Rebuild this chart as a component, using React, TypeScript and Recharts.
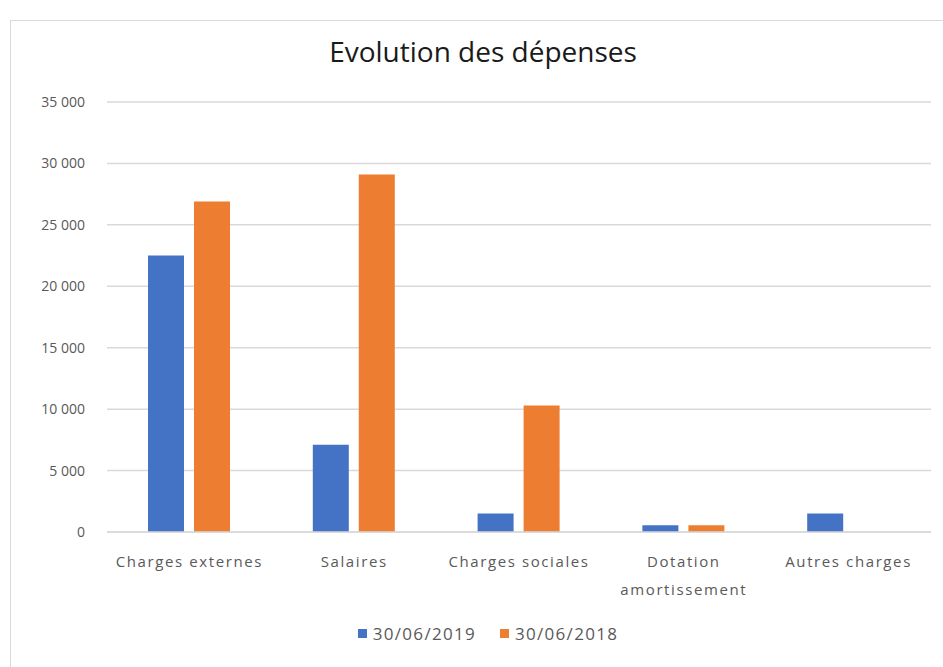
import { BarChart, Bar, XAxis, YAxis, CartesianGrid, Legend } from "recharts";

const categories = [
  "Charges externes",
  "Salaires",
  "Charges sociales",
  "Dotation amortissement",
  "Autres charges",
];
const values2019 = [22500, 7100, 1500, 550, 1500];
const values2018 = [26900, 29100, 10300, 550, 0];
const yTicks = [0, 5000, 10000, 15000, 20000, 25000, 30000, 35000];
const seriesNames = ["30/06/2019", "30/06/2018"];

const data = categories.map((name, i) => ({
  name,
  y2019: values2019[i],
  y2018: values2018[i],
}));

const fmt = (v: number) =>
  v === 0 ? "0" : String(v).replace(/\B(?=(\d{3})+(?!\d))/g, " ");

const FONT = "'Open Sans', 'Liberation Sans', sans-serif";
const GRAY = "#595959";

function XTick(props: any) {
  const { x, y, payload } = props;
  const label: string = payload.value;
  const words = label.split(" ");
  const lines = label.length > 18 ? words : [label];
  return (
    <text
      x={x}
      y={y}
      textAnchor="middle"
      fill={GRAY}
      fontSize={15}
      letterSpacing={1.6}
      fontFamily={FONT}
    >
      {lines.map((l, i) => (
        <tspan key={i} x={x} dy={i === 0 ? 27 : 28}>
          {l}
        </tspan>
      ))}
    </text>
  );
}

function LegendContent() {
  const colors = ["#4472c4", "#ed7d31"];
  return (
    <div
      style={{
        display: "flex",
        justifyContent: "center",
        gap: 24,
        fontFamily: FONT,
        fontSize: 17,
        letterSpacing: 1.3,
        color: GRAY,
      }}
    >
      {seriesNames.map((n, i) => (
        <div key={n} style={{ display: "flex", alignItems: "center", gap: 6 }}>
          <span style={{ width: 9, height: 9, background: colors[i], display: "inline-block" }} />
          <span>{n}</span>
        </div>
      ))}
    </div>
  );
}

export default function App() {
  return (
    <div style={{ position: "absolute", left: 0, top: 0, width: 943, height: 667, background: "#fff" }}>
      <div
        style={{
          position: "absolute",
          left: 10,
          top: 20,
          width: 932,
          height: 660,
          border: "1px solid #d9d9d9",
        }}
      />
      <div
        style={{
          position: "absolute",
          left: 0,
          width: 966,
          top: 32,
          textAlign: "center",
          fontFamily: FONT,
          fontSize: 28,
          color: "#1a1a1a",
        }}
      >
        Evolution des dépenses
      </div>
      <div style={{ position: "absolute", left: 0, top: 0 }}>
        <BarChart
          width={943}
          height={667}
          data={data}
          margin={{ top: 102, right: 12, left: 10, bottom: 52 }}
          barGap={10}
          barSize={36}
        >
          <CartesianGrid vertical={false} stroke="#d9d9d9" strokeWidth={1.5} />
          <XAxis
            dataKey="name"
            axisLine={{ stroke: "#d9d9d9", strokeWidth: 1.5 }}
            tickLine={false}
            tick={<XTick />}
            interval={0}
            height={60}
          />
          <YAxis
            width={97}
            domain={[0, 35000]}
            ticks={yTicks}
            tickFormatter={fmt}
            axisLine={false}
            tickLine={false}
            tickSize={0}
            tickMargin={22}
            tick={{ fill: GRAY, fontSize: 14, fontFamily: FONT }}
          />
          <Legend
            content={<LegendContent />}
            wrapperStyle={{ position: "absolute", left: 338, width: 300, top: 622 }}
          />
          <Bar dataKey="y2019" name={seriesNames[0]} fill="#4472c4" isAnimationActive={false} />
          <Bar dataKey="y2018" name={seriesNames[1]} fill="#ed7d31" isAnimationActive={false} />
        </BarChart>
      </div>
    </div>
  );
}
